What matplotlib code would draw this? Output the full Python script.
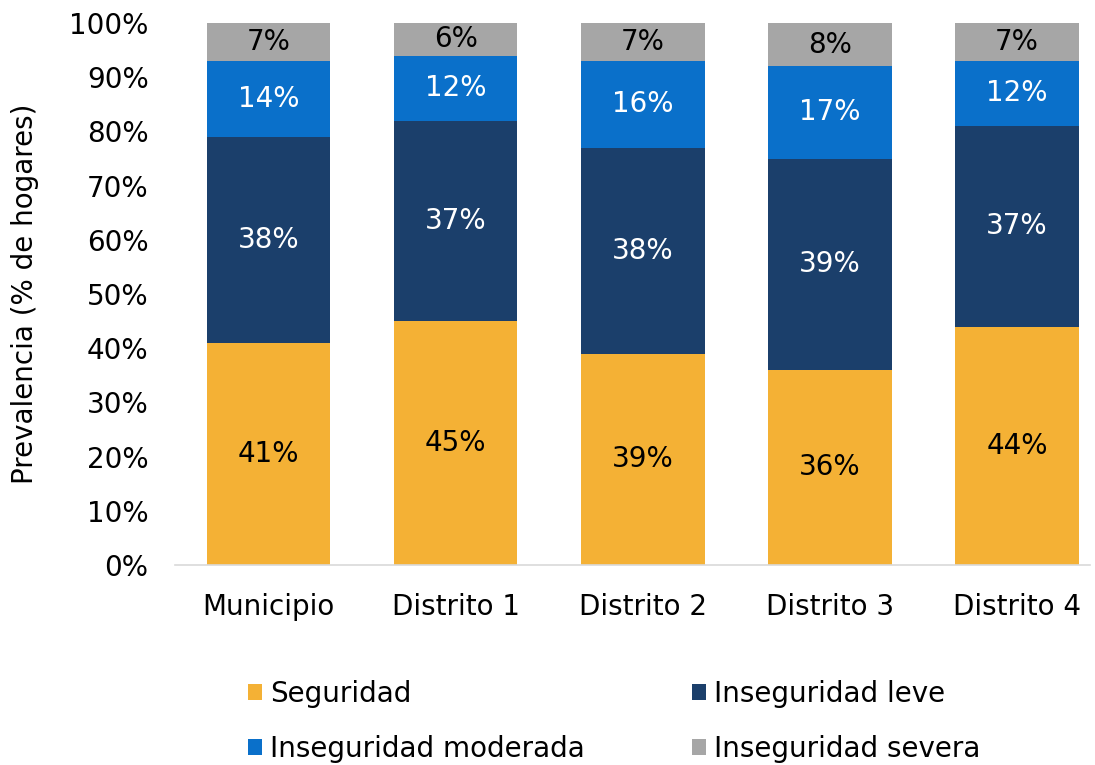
import matplotlib.pyplot as plt
import numpy as np

plt.rcParams['font.family'] = ['DejaVu Sans']

# Data
categories = ['Municipio', 'Distrito 1', 'Distrito 2', 'Distrito 3', 'Distrito 4']
series_names = ['Seguridad', 'Inseguridad leve', 'Inseguridad moderada', 'Inseguridad severa']
seguridad = [41, 45, 39, 36, 44]
leve = [38, 37, 38, 39, 37]
moderada = [14, 12, 16, 17, 12]
severa = [7, 6, 7, 8, 7]

colors = ['#F4B135', '#1B3F6B', '#0A70CA', '#A6A6A6']
text_colors = ['black', 'white', 'white', 'black']
fs = 20

fig = plt.figure(figsize=(10.95, 7.65), dpi=100)
ax = fig.add_axes([175 / 1095, 1 - 565 / 765, 915 / 1095, 542 / 765])

x = np.arange(len(categories))
bottom = np.zeros(len(categories))
for vals, name, col, tcol in zip([seguridad, leve, moderada, severa], series_names, colors, text_colors):
    vals = np.array(vals)
    ax.bar(x, vals, 0.66, bottom=bottom, color=col, label=name, zorder=2)
    for xi, b, v in zip(x, bottom, vals):
        ax.text(xi, b + v / 2, f'{v}%', ha='center', va='center', color=tcol, fontsize=fs)
    bottom += vals

ax.set_xlim(-0.5, 4.39)
ax.set_ylim(0, 100)
ax.set_yticks(range(0, 101, 10))
ax.set_yticklabels([f'{t}%' for t in range(0, 101, 10)], fontsize=fs)
ax.set_xticks(x)
ax.set_xticklabels(categories, fontsize=fs)
ax.tick_params(axis='y', length=0, pad=19)
ax.tick_params(axis='x', length=0, pad=20)
for s in ['top', 'right', 'left']:
    ax.spines[s].set_visible(False)
ax.spines['bottom'].set_color('#D9D9D9')
ax.spines['bottom'].set_linewidth(1.2)
ax.set_ylabel('Prevalencia (% de hogares)', fontsize=fs, va='center', ha='center')
ax.yaxis.set_label_coords(-0.164, 0.5)

handles, labels = ax.get_legend_handles_labels()
order = [0, 2, 1, 3]
fig.legend([handles[i] for i in order], [labels[i] for i in order], ncol=2,
           loc='upper left', bbox_to_anchor=(248 / 1095, 1 - 680 / 765), frameon=False,
           fontsize=fs, borderaxespad=0, borderpad=0,
           handlelength=0.5, handleheight=0.5, handletextpad=0.3, columnspacing=3.85,
           labelspacing=0.97)

fig.savefig('out.png', dpi=100)
